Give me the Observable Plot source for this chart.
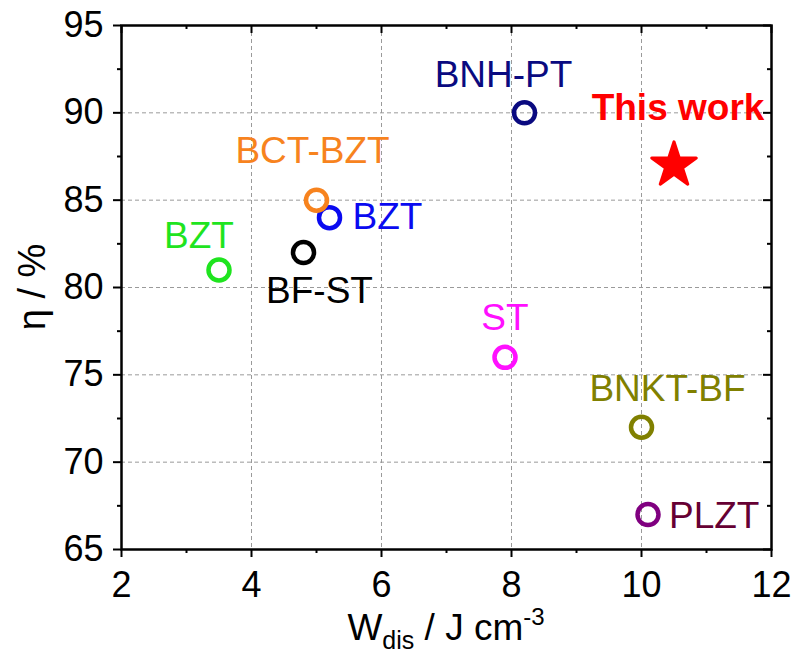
<!DOCTYPE html>
<html>
<head>
<meta charset="utf-8">
<script src="https://cdn.jsdelivr.net/npm/d3@7"></script>
<script src="https://cdn.jsdelivr.net/npm/@observablehq/plot@0.6"></script>
<style>
  html, body { margin: 0; padding: 0; background: #fff; }
  #chart { width: 798px; height: 659px; }
</style>
</head>
<body>
<div id="chart"></div>
<script>
// ---- data ----
const names  = ["BZT", "BF-ST", "BZT", "BCT-BZT", "BNH-PT", "ST", "BNKT-BF", "PLZT"];
const wdis   = [3.5, 4.8, 5.2, 5.0, 8.2, 7.9, 10.0, 10.1];
const eta    = [81, 82, 84, 85, 90, 76, 72, 67];
const thisWorkName = "This work";
const thisWorkW = [10.5];
const thisWorkEta = [87];
const xMajor = [2, 4, 6, 8, 10, 12];
const xMinor = [3, 5, 7, 9, 11];
const yMajor = [65, 70, 75, 80, 85, 90, 95];
const yMinor = [67.5, 72.5, 77.5, 82.5, 87.5, 92.5];
const xGrid = [4, 6, 8, 10];
const yGrid = [70, 75, 80, 85, 90];

// ---- styles (kept apart from data) ----
const markerColors = ["#1fe41f", "#000000", "#0a0af0", "#f7831e", "#0a0a80", "#ff10ff", "#808000", "#800080"];
const labelColors  = ["#1fe41f", "#000000", "#0a0af0", "#f7831e", "#0a0a80", "#ff10ff", "#808000", "#660033"];
const labelLayout = [
  {dx: -20, dy: -22, anchor: "middle"},
  {dx: 16,  dy: 50,  anchor: "middle"},
  {dx: 23,  dy: 11,  anchor: "start"},
  {dx: -4,  dy: -37, anchor: "middle"},
  {dx: -21, dy: -26, anchor: "middle"},
  {dx: 0,   dy: -27, anchor: "middle"},
  {dx: 26,  dy: -26, anchor: "middle"},
  {dx: 21,  dy: 13,  anchor: "start"}
];

const points = names.map((n, i) => ({name: n, x: wdis[i], y: eta[i], i}));
const star = thisWorkW.map((x, i) => ({name: thisWorkName, x, y: thisWorkEta[i]}));

const W = 798, H = 659;
const mL = 121, mR = 27, mT = 25, mB = 110;
const pw = W - mL - mR, ph = H - mT - mB;
const FONT = "Arial, 'Liberation Sans', Helvetica, sans-serif";

const labelMarks = points.map((p, i) => Plot.text([p], {
  x: "x", y: "y", text: "name",
  dx: labelLayout[i].dx, dy: labelLayout[i].dy,
  textAnchor: labelLayout[i].anchor, lineAnchor: "bottom",
  fill: labelColors[i], fontSize: 37, fontFamily: FONT
}));

const chart = Plot.plot({
  width: W, height: H,
  marginLeft: mL, marginRight: mR, marginTop: mT, marginBottom: mB,
  style: {fontFamily: FONT, background: "white", color: "black", overflow: "visible"},
  x: {domain: [2, 12], label: null},
  y: {domain: [65, 95], label: null},
  marks: [
    Plot.gridX(xGrid, {stroke: "#9a9a9a", strokeOpacity: 1, strokeWidth: 1, strokeDasharray: "4,3"}),
    Plot.gridY(yGrid, {stroke: "#9a9a9a", strokeOpacity: 1, strokeWidth: 1, strokeDasharray: "4,3"}),
    Plot.axisX(xMajor, {anchor: "bottom", tickSize: 8, tickPadding: 14, fontSize: 36, strokeWidth: 2, tickFormat: d => String(d), label: null}),
    Plot.axisX(xMinor, {anchor: "bottom", tickSize: 4, strokeWidth: 2, text: null, label: null}),
    Plot.axisY(yMajor, {anchor: "left", tickSize: 8, tickPadding: 10, fontSize: 36, strokeWidth: 2, tickFormat: d => String(d), label: null}),
    Plot.axisY(yMinor, {anchor: "left", tickSize: 4, strokeWidth: 2, text: null, label: null}),
    Plot.tickX(xMajor, {x: d => d, insetBottom: ph - 8, stroke: "black", strokeWidth: 2}),
    Plot.tickX(xMinor, {x: d => d, insetBottom: ph - 4, stroke: "black", strokeWidth: 2}),
    Plot.tickY(yMajor, {y: d => d, insetLeft: pw - 8, stroke: "black", strokeWidth: 2}),
    Plot.tickY(yMinor, {y: d => d, insetLeft: pw - 4, stroke: "black", strokeWidth: 2}),
    Plot.frame({stroke: "black", strokeWidth: 2.5}),
    Plot.dot(points, {
      x: "x", y: "y", r: 10.5, fill: "none", strokeWidth: 4.5,
      stroke: d => markerColors[d.i]
    }),
    Plot.dot(star, {x: "x", y: "y", symbol: "star", r: 14, fill: "#ff0000", stroke: "#ff0000", strokeWidth: 3, strokeLinejoin: "round"}),
    ...labelMarks,
    Plot.text(star, {x: "x", y: "y", text: "name", dx: 4, dy: -45, textAnchor: "middle", lineAnchor: "bottom",
      fill: "#ff0000", fontSize: 37, fontWeight: "bold", fontFamily: FONT})
  ]
});

document.getElementById("chart").appendChild(chart);

// axis titles with sub/superscripts
const svg = d3.select(chart);
const xt = svg.append("text")
  .attr("x", mL + pw / 2).attr("y", 640)
  .attr("text-anchor", "middle")
  .attr("font-family", FONT).attr("font-size", 37).attr("fill", "black");
xt.append("tspan").text("W");
xt.append("tspan").attr("font-size", 25).attr("dy", 9).text("dis");
xt.append("tspan").attr("dy", -9).text(" / J cm");
xt.append("tspan").attr("font-size", 24).attr("dy", -15).text("-3");

svg.append("text")
  .attr("transform", `translate(45, ${mT + ph / 2}) rotate(-90)`)
  .attr("text-anchor", "middle")
  .attr("font-family", FONT).attr("font-size", 38).attr("fill", "black")
  .text("η / %");
</script>
</body>
</html>
